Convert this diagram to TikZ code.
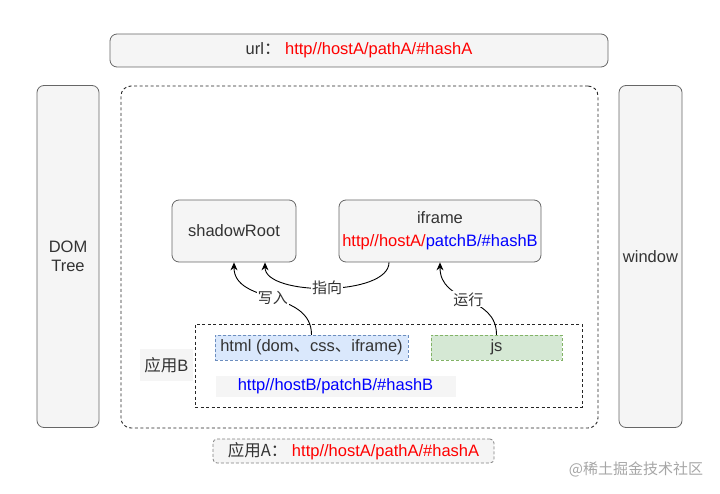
\documentclass[tikz,border=0pt]{standalone}
\usepackage{fontspec}
\setmainfont{Liberation Sans}
\newfontfamily\cjk{Noto Sans CJK SC}
\usepackage{tikz}
\usetikzlibrary{arrows.meta}

\definecolor{boxfill}{HTML}{F5F5F5}
\definecolor{boxline}{HTML}{666666}
\definecolor{txt}{HTML}{333333}
\definecolor{urlred}{HTML}{FF0000}
\definecolor{urlblue}{HTML}{0000FF}
\definecolor{htmlfill}{HTML}{DAE8FC}
\definecolor{htmlline}{HTML}{6C8EBF}
\definecolor{jsfill}{HTML}{D5E8D4}
\definecolor{jsline}{HTML}{82B366}

\begin{document}
\begin{tikzpicture}[
                x=1pt, y=-1pt,
                every node/.style={inner sep=0pt, text=txt, font=\fontsize{16.5}{19}\selectfont},
                gray box/.style={draw=boxline, fill=boxfill, rounded corners=7pt, line width=0.8pt},
                dash box/.style={draw=black!85, line width=0.9pt, dash pattern=on 3pt off 2.5pt},
                plain box/.style={fill=boxfill},
                link/.style={-{Stealth[length=8pt,width=7pt]}, line width=0.9pt, black},
                link label/.style={fill=white, inner sep=1pt, font=\cjk\fontsize{15}{18}\selectfont},
                ]
                \useasboundingbox (0,0) rectangle (720,494);

                % top bar and side columns
                \node[gray box, minimum width=498, minimum height=33] (url) at (359,50.5)
                    {url{\cjk ：} {\color{urlred}http//hostA/pathA/\#hashA}};
                \node[gray box, minimum width=62, minimum height=342, align=center] (dom) at (68,256.5) {DOM\\Tree};
                \node[gray box, minimum width=63, minimum height=342] (win) at (650.5,256.5) {window};

                % app A container
                \node[dash box, rounded corners=10pt, minimum width=477, minimum height=342] (appA) at (359.5,257) {};
                \node[gray box, draw=gray, dash pattern=on 3pt off 2pt, rounded corners=4pt, minimum width=281, minimum height=24] (appAurl) at (353.5,451)
                    {{\cjk 应用A：} {\color{urlred}http//hostA/pathA/\#hashA}};

                % shadowRoot and iframe
                \node[gray box, minimum width=124, minimum height=62] (shadow) at (234,231) {shadowRoot};
                \node[gray box, minimum width=202, minimum height=62, align=center] (iframe) at (440,231)
                    {iframe\\[4pt]{\color{urlred}http//hostA/}{\color{urlblue}patchB/\#hashB}};

                % app B
                \node[dash box, minimum width=387, minimum height=83] (appB) at (388.5,365.5) {};
                \node[plain box, minimum width=53, minimum height=32] (appBlabel) at (166.5,365) {{\cjk 应用}B};
                \node[draw=htmlline, fill=htmlfill, dash pattern=on 3pt off 2pt, minimum width=193, minimum height=25] (html) at (311.5,347.5)
                    {html (dom{\cjk 、}css{\cjk 、}iframe)};
                \node[draw=jsline, fill=jsfill, dash pattern=on 3pt off 2pt, minimum width=131, minimum height=25] (js) at (496.5,347.5) {js};
                \node[plain box, minimum width=240, minimum height=21] (appBurl) at (335.5,386)
                    {\color{urlblue}http//hostB/patchB/\#hashB};

                % connectors
                \draw[link] (html.north) .. controls +(0,-45) and +(0,42) .. node[link label] {写入} (shadow.south);
                \draw[link] ([xshift=-51]iframe.south) .. controls +(0,34) and +(0,34) .. node[link label] {指向} ([xshift=31]shadow.south);
                \draw[link] (js.north) .. controls +(0,-40) and +(0,42) .. node[link label] {运行} (iframe.south);

                \node[text=gray!70, font=\cjk\fontsize{15}{18}\selectfont] (mark) at (636,469) {@稀土掘金技术社区};
            \end{tikzpicture}
\end{document}
